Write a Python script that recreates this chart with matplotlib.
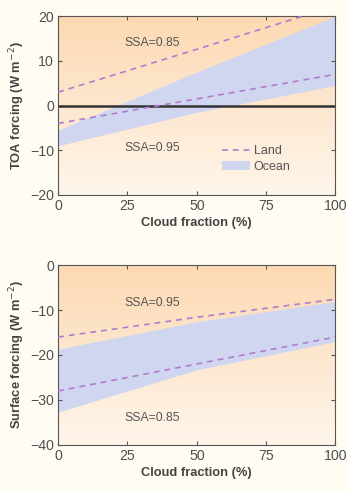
import numpy as np
import matplotlib
matplotlib.use("Agg")
import matplotlib.pyplot as plt
from matplotlib.colors import LinearSegmentedColormap

plt.rcParams['font.family'] = ['Liberation Sans', 'DejaVu Sans']

cloud = [0, 50, 100]
# TOA panel
toa_land_085 = [3, 12.6, 22.3]
toa_land_095 = [-4, 1.5, 7]
toa_ocean_hi = [-5.5, 7.5, 20]
toa_ocean_lo = [-9, -1.5, 4.5]
# Surface panel
sfc_land_095 = [-16, -11.6, -7.6]
sfc_land_085 = [-28, -22, -16]
sfc_ocean_hi = [-18.7, -12.6, -8.1]
sfc_ocean_lo = [-32.7, -23.3, -17]

xticks = [0, 25, 50, 75, 100]

fig = plt.figure(figsize=(3.48, 4.91), dpi=100)
fig.patch.set_facecolor('#fffcf4')

# top (orange) -> bottom (pale)
cmap = LinearSegmentedColormap.from_list('bg', ['#fcd9b2', '#fde7cf', '#fff6ea'])
land_c = '#b07ccc'
ocean_c = '#d0d6f0'
tick_c = '#505050'

def setup(ax, ylim, yticks, ylabel):
    ax.set_xlim(0, 100)
    ax.set_ylim(*ylim)
    grad = np.linspace(0, 1, 256).reshape(-1, 1)
    ax.imshow(grad, aspect='auto', cmap=cmap, origin='upper',
              extent=[0, 100, ylim[0], ylim[1]], zorder=0)
    ax.set_xlim(0, 100)
    ax.set_ylim(*ylim)
    ax.set_xticks(xticks)
    ax.set_yticks(yticks)
    ax.tick_params(direction='in', top=True, right=True, length=3, width=0.8,
                   labelsize=10.2, colors='#555555', pad=3)
    for lab in ax.get_xticklabels() + ax.get_yticklabels():
        lab.set_color(tick_c)
    for s in ax.spines.values():
        s.set_color('#555555'); s.set_linewidth(0.8)
    ax.set_xlabel('Cloud fraction (%)', fontsize=9.3, fontweight='bold', color='#444444', labelpad=3)
    ax.set_ylabel(ylabel, fontsize=9.3, fontweight='bold', color='#444444', labelpad=2)

ax1 = fig.add_axes([0.167, 0.603, 0.797, 0.364])
setup(ax1, (-20, 20), [-20, -10, 0, 10, 20], 'TOA forcing (W m$^{-2}$)')
ax1.fill_between(cloud, toa_ocean_lo, toa_ocean_hi, color=ocean_c, lw=0, zorder=1, label='Ocean')
ax1.plot(cloud, toa_land_085, ls=(0, (3.5, 3)), color=land_c, lw=1.2, zorder=3, label='Land')
ax1.plot(cloud, toa_land_095, ls=(0, (3.5, 3)), color=land_c, lw=1.2, zorder=3)
ax1.axhline(0, color='#333333', lw=1.8, zorder=2)
ax1.text(34, 13.9, 'SSA=0.85', ha='center', va='center', fontsize=8.8, color='#555555')
ax1.text(34, -9.4, 'SSA=0.95', ha='center', va='center', fontsize=8.8, color='#555555')
h, l = ax1.get_legend_handles_labels()
ax1.legend([h[1], h[0]], [l[1], l[0]], loc='lower left', bbox_to_anchor=(0.57, 0.09),
           frameon=False, fontsize=9, handlelength=2.2, handletextpad=0.3,
           labelspacing=0.25, borderpad=0, labelcolor='#555555')

ax2 = fig.add_axes([0.167, 0.094, 0.797, 0.366])
setup(ax2, (-40, 0), [-40, -30, -20, -10, 0], 'Surface forcing (W m$^{-2}$)')
ax2.fill_between(cloud, sfc_ocean_lo, sfc_ocean_hi, color=ocean_c, lw=0, zorder=1)
ax2.plot(cloud, sfc_land_095, ls=(0, (3.5, 3)), color=land_c, lw=1.2, zorder=3)
ax2.plot(cloud, sfc_land_085, ls=(0, (3.5, 3)), color=land_c, lw=1.2, zorder=3)
ax2.text(34, -8.5, 'SSA=0.95', ha='center', va='center', fontsize=8.8, color='#555555')
ax2.text(34, -34, 'SSA=0.85', ha='center', va='center', fontsize=8.8, color='#555555')

fig.savefig('out.png', dpi=100, facecolor=fig.get_facecolor())
